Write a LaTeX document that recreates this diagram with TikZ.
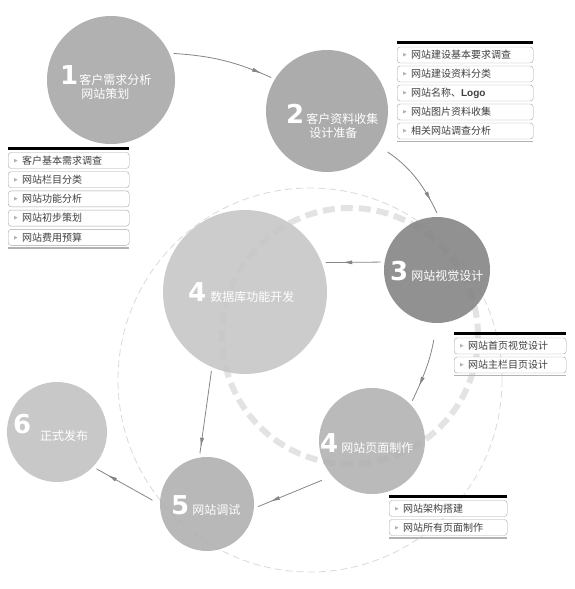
\documentclass[tikz,border=0pt]{standalone}
\usepackage{fontspec}
\newfontfamily\cjk{Noto Sans CJK SC}
\newfontfamily\cifrafont{DejaVu Sans}
\newfontfamily\latin{Liberation Sans}
\usetikzlibrary{arrows.meta,decorations.markings}

\newcommand{\cifra}[1]{{\cifrafont\bfseries\fontsize{26}{26}\selectfont #1}}
\newcommand{\vineta}{\raisebox{2pt}{\cifrafont\fontsize{5}{5}\selectfont\color{black!30}▶}\hspace{4pt}}

\begin{document}
\begin{tikzpicture}[x=1pt,y=-1pt,>=Stealth,
  paso/.style={circle,inner sep=0pt,outer sep=4pt,minimum size=#1,fill opacity=0.9},
  etiq/.style={anchor=base west,inner sep=0pt,text=white,font=\cjk\fontsize{12}{13.5}\selectfont},
  item/.style={draw=black!35,rounded corners=3pt,fill=white,anchor=west,text width=#1,
    inner xsep=6pt,inner ysep=0pt,minimum height=16pt,text=black!75,font=\cjk\fontsize{10}{12}\selectfont},
  barra/.style={line width=3pt},
  pie/.style={draw=black!30,line width=1.5pt},
  flecha/.style={draw=black!48,line width=0.8pt,postaction={decorate},
    decoration={markings,mark=at position #1 with {\arrow{Latex[length=10pt,width=4pt]}}}}]
  \useasboundingbox (0,0) rectangle (575,589);
  % circulos discontinuos de fondo
  \draw[black!15,line width=0.8pt,dash pattern=on 7pt off 4pt] (310,380) circle[radius=192];
  \draw[black!11,line width=6pt,dash pattern=on 12pt off 6pt] (350,336) circle[radius=128];
  % pasos
  \node[paso=128pt,fill=black!34] (p1) at (111,80) {};
  \node[paso=122pt,fill=black!36] (p2) at (327,111) {};
  \node[paso=106pt,fill=black!48] (p3) at (437,270) {};
  \node[paso=164pt,fill=black!22] (p4) at (245,292) {};
  \node[paso=106pt,fill=black!30] (p4b) at (372,441) {};
  \node[paso=94pt,fill=black!31] (p5) at (207,504) {};
  \node[paso=100pt,fill=black!24] (p6) at (57,432) {};
  % etiquetas
  \node[etiq] (t1) at (60,84) {\cifra{1}\hspace{1pt}\begin{tabular}[t]{@{}l@{}}客户需求分析\\\hspace{2pt}网站策划\end{tabular}};
  \node[etiq] (t2) at (286,123) {\cifra{2}\hspace{2pt}\begin{tabular}[t]{@{}l@{}}客户资料收集\\\hspace{3pt}设计准备\end{tabular}};
  \node[etiq] (t3) at (390,280) {\cifra{3}\hspace{3pt}网站视觉设计};
  \node[etiq] (t4) at (188,301) {\cifra{4}\hspace{4pt}数据库功能开发};
  \node[etiq] (t4b) at (320,452) {\cifra{4}\hspace{3pt}网站页面制作};
  \node[etiq] (t5) at (171,514) {\cifra{5}\hspace{3pt}网站调试};
  \node[etiq] (t6) at (13,433) {\cifra{6}};
  \node[etiq] (t6b) at (40,440) {正式发布};
  % flechas entre pasos
  \draw[flecha=0.9] (p1.23) to[bend left=10] (p2.149);
  \draw[flecha=0.85,shorten <=8pt] (p2.-34) to[bend left=15] (p3.90);
  \draw[flecha=0.7] (p3.172) -- (p4.20);
  \draw[flecha=0.8,shorten <=13pt] (p3.-91) to[bend left=8] (p4b.45);
  \draw[flecha=0.93] (p4.-113) -- (p5.98);
  \draw[flecha=0.83,shorten <=7pt] (p4b.220) -- (p5.-3);
  \draw[flecha=0.82,shorten <=4pt] (p5.178) -- (p6.-43.5);
  % lista del paso 1
  \node[item=109pt] (a1) at (8,160.5) {\vineta 客户基本需求调查};
  \node[item=109pt] (a2) at (8,179.7) {\vineta 网站栏目分类};
  \node[item=109pt] (a3) at (8,198.9) {\vineta 网站功能分析};
  \node[item=109pt] (a4) at (8,218.1) {\vineta 网站初步策划};
  \node[item=109pt] (a5) at (8,237.3) {\vineta 网站费用预算};
  \draw[barra] ([yshift=4pt]a1.north west) -- ([yshift=4pt]a1.north east);
  \draw[pie] ([yshift=-2.5pt]a5.south west) -- ([yshift=-2.5pt]a5.south east);
  % lista del paso 2
  \node[item=124pt] (b1) at (397,55) {\vineta 网站建设基本要求调查};
  \node[item=124pt] (b2) at (397,74) {\vineta 网站建设资料分类};
  \node[item=124pt] (b3) at (397,93) {\vineta 网站名称、{\latin\bfseries Logo}};
  \node[item=124pt] (b4) at (397,112) {\vineta 网站图片资料收集};
  \node[item=124pt] (b5) at (397,131) {\vineta 相关网站调查分析};
  \draw[barra] ([yshift=4pt]b1.north west) -- ([yshift=4pt]b1.north east);
  \draw[pie] ([yshift=-2.5pt]b5.south west) -- ([yshift=-2.5pt]b5.south east);
  % lista del paso 3
  \node[item=100pt] (c1) at (454,346) {\vineta 网站首页视觉设计};
  \node[item=100pt] (c2) at (454,365) {\vineta 网站主栏目页设计};
  \draw[barra] ([yshift=4pt]c1.north west) -- ([yshift=4pt]c1.north east);
  \draw[pie] ([yshift=-2.5pt]c2.south west) -- ([yshift=-2.5pt]c2.south east);
  % lista del paso 4
  \node[item=106pt] (d1) at (389,508.5) {\vineta 网站架构搭建};
  \node[item=106pt] (d2) at (389,527.5) {\vineta 网站所有页面制作};
  \draw[barra] ([yshift=4pt]d1.north west) -- ([yshift=4pt]d1.north east);
  \draw[pie] ([yshift=-2.5pt]d2.south west) -- ([yshift=-2.5pt]d2.south east);
\end{tikzpicture}
\end{document}
